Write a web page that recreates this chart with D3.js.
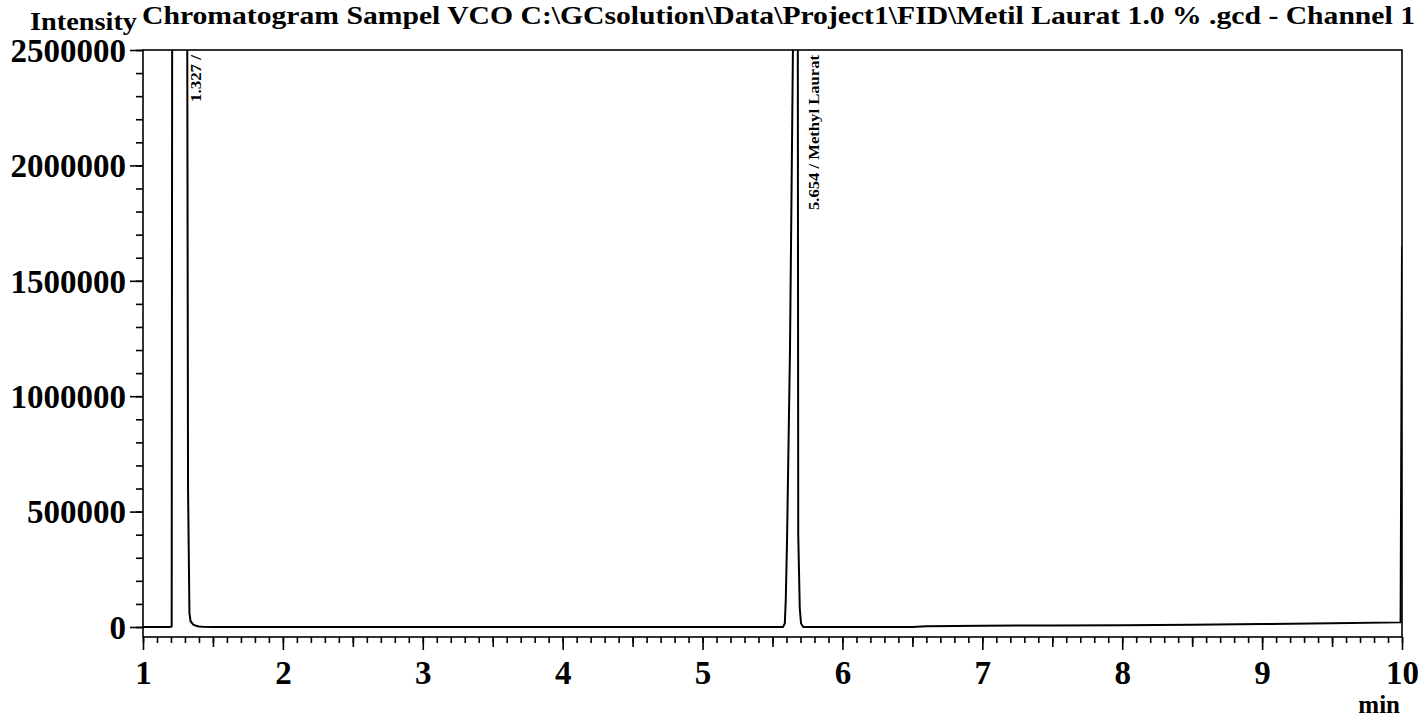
<!DOCTYPE html>
<html>
<head>
<meta charset="utf-8">
<script src="https://cdn.jsdelivr.net/npm/d3@7"></script>
<style>
  body { margin: 0; background: #fff; }
  text { font-family: "Liberation Serif", "DejaVu Serif", serif; font-weight: bold; fill: #000; }
</style>
</head>
<body>
<div id="chart"></div>
<script>
// chromatogram trace (time in min, intensity)
const times = [1.0, 1.05, 1.1, 1.15, 1.19, 1.205, 1.209, 1.22, 1.26, 1.3, 1.315, 1.322, 1.332, 1.34, 1.36, 1.38, 1.4, 1.43, 1.5,
  2.0, 3.0, 4.0, 5.0, 5.5, 5.575, 5.588, 5.595, 5.604, 5.625, 5.646, 5.66, 5.675, 5.681, 5.684, 5.695, 5.704, 5.72,
  6.0, 6.5, 6.6, 7.0, 7.5, 8.0, 8.5, 9.0, 9.5, 9.99, 10.0];
const intensity = [0, 0, 0, 0, 0, 2000, 3000000, 8000000, 9000000, 8000000, 3000000, 600000, 60000, 25000, 10000, 5000, 2500, 800, 0,
  0, 0, 0, 0, 0, 0, 15000, 120000, 377000, 1200000, 2500000, 5000000, 4000000, 2500000, 400000, 80000, 15000, 0,
  0, 0, 3000, 5000, 7000, 8000, 10000, 13000, 16000, 20000, 1650000];

const peakLabels = [{ t: 1.327, text: "1.327 /", len: 47 }, { t: 5.654, text: "5.654 / Methyl Laurat", len: 155 }];
const xTicks = [1, 2, 3, 4, 5, 6, 7, 8, 9, 10];
const yTicks = [0, 500000, 1000000, 1500000, 2000000, 2500000];
const title = "Chromatogram Sampel VCO C:\\GCsolution\\Data\\Project1\\FID\\Metil Laurat 1.0 % .gcd - Channel 1";

const W = 1422, H = 722;
const m = { left: 143, right: 1402, top: 50, zero: 627, bottom: 637 };

const svg = d3.select("#chart").append("svg").attr("width", W).attr("height", H);

const x = d3.scaleLinear().domain([1, 10]).range([m.left, m.right]);
const y = d3.scaleLinear().domain([0, 2500000]).range([m.zero, m.top]);

svg.append("defs").append("clipPath").attr("id", "clip")
  .append("rect").attr("x", m.left).attr("y", m.top).attr("width", m.right - m.left).attr("height", m.bottom - m.top);

// title
svg.append("text").attr("x", 142).attr("y", 24)
  .attr("textLength", 1273).attr("lengthAdjust", "spacingAndGlyphs")
  .style("font-size", "26px").text(title);

svg.append("text").attr("x", 30).attr("y", 30)
  .attr("textLength", 107).attr("lengthAdjust", "spacingAndGlyphs")
  .style("font-size", "25px").text("Intensity");

// y axis
const yMinor = svg.append("g").attr("transform", `translate(${m.left},0)`)
  .call(d3.axisLeft(y).tickValues(d3.range(0, 2500001, 100000)).tickSize(7).tickFormat(""));
const yMajor = svg.append("g").attr("transform", `translate(${m.left},0)`)
  .call(d3.axisLeft(y).tickValues(yTicks).tickSize(13).tickPadding(4).tickFormat(d3.format("d")));

// x axis
const xMinor = svg.append("g").attr("transform", `translate(0,${m.bottom})`)
  .call(d3.axisBottom(x).tickValues(d3.range(10, 101).map(d => d / 10)).tickSize(6).tickFormat(""));
const xMid = svg.append("g").attr("transform", `translate(0,${m.bottom})`)
  .call(d3.axisBottom(x).tickValues(d3.range(1.5, 10, 1)).tickSize(10).tickFormat(""));
const xMajor = svg.append("g").attr("transform", `translate(0,${m.bottom})`)
  .call(d3.axisBottom(x).tickValues(xTicks).tickSize(13).tickPadding(10).tickFormat(d3.format("d")));

[yMinor, yMajor, xMinor, xMid, xMajor].forEach(g => {
  g.select(".domain").remove();
  g.selectAll("line").attr("stroke", "#000").attr("stroke-width", 1.6);
  g.selectAll("text").style("font-size", "33px").style("font-family", "Liberation Serif").style("font-weight", "bold");
});
yMajor.selectAll("text").attr("dy", "0.34em");
xMajor.selectAll("text").attr("dy", "0.72em");

svg.append("text").attr("x", 1400).attr("y", 713).attr("text-anchor", "end")
  .style("font-size", "25px").text("min");

// frame
svg.append("rect").attr("x", m.left).attr("y", m.top).attr("width", m.right - m.left).attr("height", m.bottom - m.top)
  .attr("fill", "none").attr("stroke", "#000").attr("stroke-width", 1.6);

// trace
const pts = times.map((t, i) => [t, intensity[i]]);
const line = d3.line().x(d => x(d[0])).y(d => y(d[1]));
svg.append("path").attr("clip-path", "url(#clip)")
  .attr("d", line(pts)).attr("fill", "none").attr("stroke", "#000").attr("stroke-width", 2);

// peak labels
svg.selectAll(".plabel").data(peakLabels).enter().append("text")
  .attr("class", "plabel")
  .attr("transform", d => `translate(${x(d.t) + (d.t < 2 ? 12 : 25)},55) rotate(-90)`)
  .attr("text-anchor", "end")
  .attr("textLength", d => d.len).attr("lengthAdjust", "spacingAndGlyphs")
  .style("font-size", "15px").text(d => d.text);
</script>
</body>
</html>
